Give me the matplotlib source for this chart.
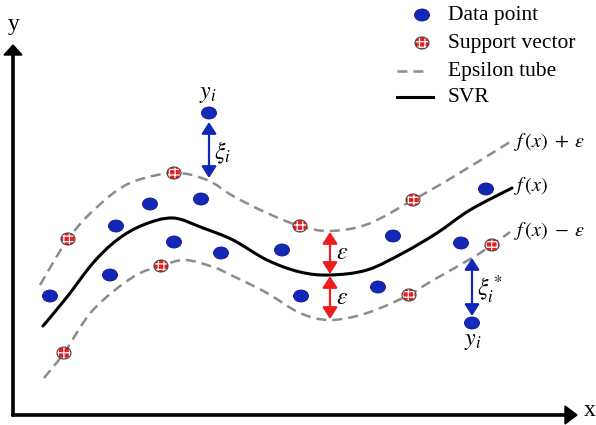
import numpy as np
import matplotlib
matplotlib.use('Agg')
import matplotlib.pyplot as plt
from matplotlib.path import Path
from matplotlib.patches import PathPatch, Ellipse

plt.rcParams['mathtext.fontset'] = 'stix'
plt.rcParams['hatch.linewidth'] = 0.9

# all positions are in image pixels (origin top-left)
blue_x = [50, 110, 116, 150, 174, 201, 221, 282, 301, 378, 393, 461, 486]
blue_y = [296, 275, 226, 204, 242, 199, 253, 250, 296, 287, 236, 243, 189]
outlier_x = [209, 472]
outlier_y = [113, 323]
sv_x = [64, 68, 161, 174, 300, 409, 413, 492]
sv_y = [353, 239, 266, 173, 226, 295, 200, 245]

# SVR curve and epsilon tube (knots)
svr_x = [43, 67, 93, 117, 143, 173, 203, 233, 267, 300, 330, 367, 403, 437, 470, 512]
svr_y = [326, 297, 263, 240, 225, 218, 228, 240, 260, 272, 275, 270, 253, 233, 210, 188]
up_x = [40, 68, 97, 130, 174, 207, 233, 267, 300, 330, 368, 413, 453, 510]
up_y = [285, 239, 207, 183, 173, 180, 196, 213, 226, 231, 224, 200, 177, 142]
low_x = [44, 64, 93, 133, 161, 185, 213, 233, 267, 300, 330, 367, 409, 430, 472, 492, 510]
low_y = [378, 353, 310, 277, 266, 260, 267, 276, 293, 313, 320, 313, 295, 282, 258, 245, 232]

legend_labels = ['Data point', 'Support vector', 'Epsilon tube', 'SVR']

BLUE = '#1428b8'
RED = '#ee1c1c'
GRAY = '#8c8c8c'


def smooth_path(xs, ys):
    pts = np.column_stack([xs, ys]).astype(float)
    ext = np.vstack([pts[0], pts, pts[-1]])
    verts = [pts[0]]
    codes = [Path.MOVETO]
    for i in range(1, len(ext) - 2):
        p0, p1, p2, p3 = ext[i - 1], ext[i], ext[i + 1], ext[i + 2]
        verts += [p1 + (p2 - p0) / 6, p2 - (p3 - p1) / 6, p2]
        codes += [Path.CURVE4] * 3
    return Path(verts, codes)


def blue_dot(ax, x, y):
    ax.add_patch(Ellipse((x, y), 15, 12, facecolor=BLUE, edgecolor='#0a168a', lw=0.6, zorder=5))


def sv_dot(ax, x, y):
    ax.add_patch(Ellipse((x, y), 14, 12, facecolor=RED, edgecolor='white', hatch='+++', lw=0, zorder=5))
    ax.add_patch(Ellipse((x, y), 14, 12, facecolor='none', edgecolor='#444444', lw=0.8, zorder=6))


def double_arrow(ax, x, y0, y1, color):
    ax.annotate('', xy=(x, y1), xytext=(x, y0),
                arrowprops=dict(arrowstyle='<|-|>,head_length=0.7,head_width=0.45',
                                color=color, lw=1.6, shrinkA=0, shrinkB=0,
                                mutation_scale=10), zorder=4)


fig = plt.figure(figsize=(5.96, 4.25), dpi=100)
ax = fig.add_axes([0, 0, 1, 1])
ax.set_xlim(0, 596)
ax.set_ylim(425, 0)
ax.axis('off')

# axes arrows
ax.arrow(13, 416, 0, -371, width=2.2, head_width=18, head_length=10,
         length_includes_head=True, color='black')
ax.arrow(12, 415, 565, 0, width=2.2, head_width=18, head_length=12,
         length_includes_head=True, color='black')
ax.text(14, 24, 'y', fontsize=17, family='Liberation Serif', ha='center', va='center')
ax.text(590, 411, 'x', fontsize=17, family='Liberation Serif', ha='center', va='center')

# tube and regression curve
dash = (0, (4, 2.4))
ax.add_patch(PathPatch(smooth_path(up_x, up_y), fill=False, edgecolor=GRAY, lw=1.8, linestyle=dash))
ax.add_patch(PathPatch(smooth_path(low_x, low_y), fill=False, edgecolor=GRAY, lw=1.8, linestyle=dash))
ax.add_patch(PathPatch(smooth_path(svr_x, svr_y), fill=False, edgecolor='black', lw=2.2,
                       capstyle='round'))

for x, y in zip(blue_x, blue_y):
    blue_dot(ax, x, y)
for x, y in zip(outlier_x, outlier_y):
    blue_dot(ax, x, y)
for x, y in zip(sv_x, sv_y):
    sv_dot(ax, x, y)

# slack and epsilon arrows
double_arrow(ax, 209, 122, 178, BLUE)
double_arrow(ax, 472, 258, 316, BLUE)
double_arrow(ax, 330, 232, 274, RED)
double_arrow(ax, 330, 276, 319, RED)

ax.text(208, 93, '$y_i$', fontsize=17, ha='center', va='center')
ax.text(214, 153, r'$\xi_i$', fontsize=17, ha='left', va='center')
ax.text(473, 340, '$y_i$', fontsize=17, ha='center', va='center')
ax.text(477, 290, r'$\xi_i^*$', fontsize=17, ha='left', va='center')
ax.text(336, 252, r'$\varepsilon$', fontsize=17, ha='left', va='center')
ax.text(336, 297, r'$\varepsilon$', fontsize=17, ha='left', va='center')
ax.text(514, 142, r'$f\,(x)\;+\;\varepsilon$', fontsize=14.5, ha='left', va='center')
ax.text(514, 186, r'$f\,(x)$', fontsize=14.5, ha='left', va='center')
ax.text(514, 231, r'$f\,(x)\;-\;\varepsilon$', fontsize=14.5, ha='left', va='center')

# legend drawn by hand
ly = [15, 43, 71, 97]
blue_dot(ax, 422, ly[0])
sv_dot(ax, 422, ly[1])
ax.plot([397, 429], [ly[2], ly[2]], color=GRAY, lw=1.8, linestyle=dash)
ax.plot([397, 433], [ly[3], ly[3]], color='black', lw=2.2)
for y, lab in zip(ly, legend_labels):
    ax.text(448, y, lab, fontsize=15.5, family='Liberation Serif', ha='left', va='center')

fig.savefig('out.png', dpi=100)
